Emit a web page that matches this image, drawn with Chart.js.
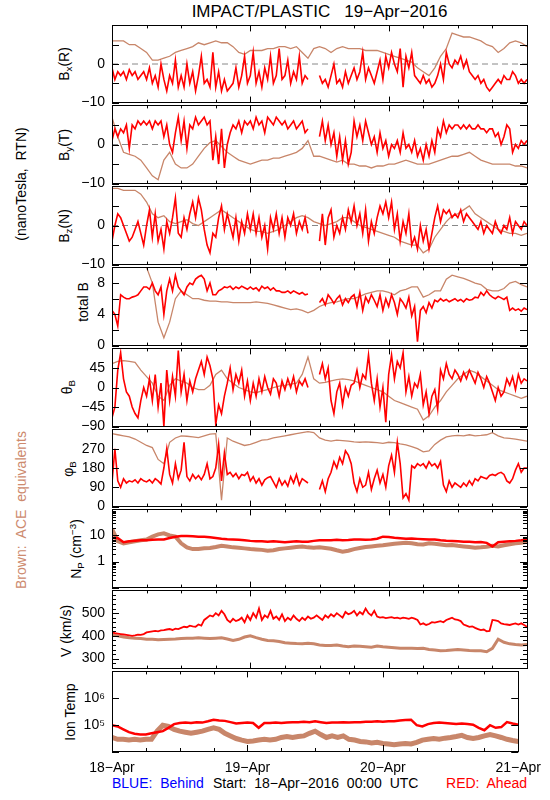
<!DOCTYPE html>
<html>
<head>
<meta charset="utf-8">
<title>IMPACT/PLASTIC 19-Apr-2016</title>
<script src="https://cdn.jsdelivr.net/npm/chart.js@4.4.1/dist/chart.umd.min.js"></script>
<style>
  body { margin: 0; background: #fff; }
  #wrap { position: relative; width: 550px; height: 800px; overflow: hidden;
          font-family: 'Liberation Sans', Arial, sans-serif; color: #000; }
  #wrap canvas { position: absolute; left: 0; }
  .txt { position: absolute; white-space: nowrap; font-size: 14px; line-height: 14px; }
  .rot { position: absolute; white-space: nowrap; font-size: 14px; line-height: 14px;
         transform: translate(-50%, -50%) rotate(-90deg); }
  sub { font-size: 70%; vertical-align: -0.3em; line-height: 0; }
  sup { font-size: 70%; vertical-align: 0.5em; line-height: 0; }
</style>
</head>
<body>
<div id="wrap">
  <div class="txt" style="left:112px;width:415px;top:3px;text-align:center;font-size:17px;line-height:17px;">IMPACT/PLASTIC&nbsp;&nbsp;&nbsp;19−Apr−2016</div>

  <div class="rot" style="left:21px;top:184px;">(nanoTesla,&nbsp; RTN)</div>
  <div class="rot" style="left:21px;top:510px;color:#cd8a6e;">Brown:&nbsp; ACE&nbsp; equivalents</div>

  <div class="rot" style="left:64px;top:64px;">B<sub>x</sub>(R)</div>
  <div class="rot" style="left:64px;top:145px;">B<sub>y</sub>(T)</div>
  <div class="rot" style="left:64px;top:226px;">B<sub>z</sub>(N)</div>
  <div class="rot" style="left:83px;top:302px;">total B</div>
  <div class="rot" style="left:67px;top:387px;">θ<sub>B</sub></div>
  <div class="rot" style="left:68px;top:469px;">φ<sub>B</sub></div>
  <div class="rot" style="left:76px;top:549px;">N<sub>P</sub> (cm<sup>−3</sup>)</div>
  <div class="rot" style="left:66px;top:631px;">V (km/s)</div>
  <div class="rot" style="left:70px;top:712px;">Ion Temp</div>

  <div class="txt" style="left:112px;top:776px;color:#0000ff;">BLUE:&nbsp; Behind</div>
  <div class="txt" style="left:213px;top:776px;">Start:&nbsp; 18−Apr−2016&nbsp; 00:00&nbsp; UTC</div>
  <div class="txt" style="right:23px;top:776px;color:#ff0000;">RED:&nbsp; Ahead</div>
</div>
<script>
// time axis: hours since 18-Apr-2016 00:00 UTC
const dayLabels = ['18−Apr', '19−Apr', '20−Apr', '21−Apr'];
const dayHours = [0, 24, 48, 72];

// STEREO-A (red) magnetic field, 30 min samples (null = data gap)
const redBx = [
  -1,-4,-2,-3,-2,-4,-1.5,-3,-2,-4,-3,-2,
  -4,-1,-5,-3,-6,0,-4,-7,-3,-5,1,-6,
  -3,-6,0,-5,-2,-7,-3,2,-5,-4,-6,3,
  -6,-2,-7,-4,-7,-6,-5,-1,-6,-3,2,-5,
  -3,3,-5,-2,-6,-1,-4,2,-5,-3,4,-4,
  -3,1,-5,-2,-4,2,-5,-3,-4,null,null,null,
  -3,-5,-4,-6,-3,0,-5,-4,-6,-2,-5,-3,
  -1,-4,-2,3,-4,-1,-3,-5,-2,1,-4,2,
  -1,3,0,-2,4,-6,2,-1,3,-3,-4,-5,
  -3,-5,-4,-6,-5,-3,0,-4,3,0,-1,1,
  0,2,-1,1,-2,-3,-4,-3,-5,-4,-6,-7,
  -6,-5,-4,-5,-3,-4,-4,-2,-3,-5,-4,-5,
  -4
];
const redBy = [
  1,4,2,4,3,5,-1,5,4,6,5,6,
  5,6,4,6,5,6,2,5,0,-2,3,7,
  1,6,-1,5,4,7,5,6,7,5,6,-4,
  2,-5,4,-6,0,3,5,4,6,3,6,5,
  6,4,7,5,6,3,7,6,5,7,6,5,
  6,4,5,6,4,5,6,3,4,null,null,null,
  2,6,1,5,0,3,-3,2,-4,1,-5,-2,
  6,2,5,1,6,3,0,2,-2,3,-1,1,
  -3,0,-1,1,-2,3,-1,0,-2,1,-3,-1,
  -4,0,-3,1,-2,4,2,6,3,5,4,5,
  5,4,5,4,5,4,4,5,4,4,3,4,
  4,2,3,0,2,5,4,-2,0,-1,1,0,
  1
];
const redBz = [
  -4,0,3,2,0,-2,-4,-3,-1,1,-2,-5,
  0,4,-3,3,-4,-1,-6,1,-2,2,7,-2,
  -3,2,-1,3,6,2,7,4,-1,-5,-7,-2,
  -3,2,5,-1,3,0,-3,2,-4,1,-2,3,
  -1,3,-2,2,-3,0,-6,2,-1,3,-2,2,
  -3,2,0,3,-2,1,-1,2,-2,null,null,null,
  -4,3,-5,2,4,-3,0,-2,2,-1,4,1,
  5,0,3,-2,4,-4,1,-2,2,5,3,6,
  2,6,-1,3,-4,1,-2,3,-5,-3,-6,0,
  -4,-1,-6,-2,2,5,1,4,3,4,2,3,
  2,4,1,3,2,1,0,-1,1,-2,0,-1,
  -2,1,-1,-2,0,-1,2,-2,1,0,-1,1,
  0
];
const redBt = [
  4.5,4,2.5,6.5,6.2,6,6,6.2,6.3,6.5,7,7.5,
  7.5,7.2,8,7,6.5,7.5,4,7,8.5,7,9,7.5,
  7,6.5,7.5,8,7.8,8.5,8.8,9,8.5,7,8,6.5,
  6.5,7,7.2,7.5,7.4,7.6,7.2,7.5,7.3,7.6,7.4,7.2,
  7.5,7.2,7.4,7,7.6,7.3,7.5,7.1,7.4,7,7,6.8,
  6.8,7,6.7,7,6.8,6.6,6.8,6.5,6.6,null,null,null,
  5.5,6,5.2,6.5,6,5.4,6,6.4,5.2,6,5.5,6.2,
  6.5,5,6.8,4.5,6.2,5.5,6.5,5.8,5,6.5,4.5,6,
  5,6.5,5.5,4,6,5.5,4.8,6.2,3.8,5,0.5,4.5,
  5,4.2,5.5,4.8,5.8,5.6,6,5.7,5.9,5.6,5.8,6,
  5.7,5.9,5.6,6,5.8,5.9,6.2,6.1,6.8,6.4,7,6.5,
  6.2,6,6.3,6.1,5.9,6.2,4.5,4.8,4.5,4.7,4.4,4.8,
  4.6
];
const redTheta = [
  -70,-45,40,80,20,-10,-20,-45,-60,-70,-30,0,
  -20,20,-30,30,-45,10,-90,40,-30,25,-20,85,
  -10,30,-30,15,-10,20,40,60,30,70,50,20,
  -85,-40,-60,-20,10,45,-5,30,10,40,-20,15,
  -30,10,-20,20,-10,25,0,-15,20,10,-20,15,
  -5,20,0,25,-10,15,5,20,0,null,null,null,
  30,55,20,45,-30,-60,-10,10,-40,0,-20,5,
  10,40,0,30,20,75,10,-30,20,-45,0,-80,
  30,75,20,60,45,80,-10,25,-20,10,0,30,
  -40,-10,-60,-20,-5,-50,40,20,55,30,20,40,
  30,15,35,20,40,25,10,35,20,0,25,10,
  -10,-30,0,-20,-10,20,5,25,-5,30,10,20,
  15
];
const redPhi = [
  110,270,120,90,130,110,120,115,125,110,130,120,
  115,125,110,130,120,105,180,270,150,110,200,130,
  170,300,140,120,150,130,145,125,150,200,130,140,
  180,290,120,250,150,160,140,155,130,150,145,160,
  120,140,110,130,100,125,135,140,115,90,130,100,
  120,95,140,110,150,100,130,120,110,null,null,null,
  80,120,70,130,160,210,180,230,200,260,240,200,
  110,70,130,90,100,160,80,130,170,110,150,90,
  190,240,160,300,200,40,60,30,190,180,200,190,
  200,180,210,190,200,180,210,100,70,120,90,110,
  100,90,110,95,120,100,130,120,140,135,130,145,
  150,145,155,160,150,120,110,130,170,200,160,180,
  180
];
// STEREO-A (red) plasma
const redV = [
  415,412,410,408,406,404,402,400,402,405,404,408,
  415,418,420,422,420,424,425,428,430,426,432,430,
  435,440,438,445,442,440,450,445,470,480,490,485,
  500,490,510,495,470,460,475,465,470,480,460,490,
  470,500,480,520,470,490,480,510,475,485,470,495,
  465,480,470,490,475,465,480,470,485,475,480,490,
  480,470,490,480,495,485,500,490,480,505,495,500,
  510,490,505,495,520,500,490,510,485,480,482,478,
  480,482,478,480,476,480,478,475,480,476,470,450,
  455,448,452,460,458,462,465,460,470,475,480,472,
  470,465,450,445,440,442,435,430,425,428,420,422,
  470,468,465,455,452,450,448,452,455,450,455,448,
  440
];
// hourly samples
const redNp = [8,8,5.5,6,6.3,6.5,6.5,6.8,7,7,8,9,9.5,9.5,9.3,9,9,8.5,8,7.5,7.2,7,6.8,6.5,
  6.2,6,6,5.8,6,5.8,5.5,5.8,6,5.7,5.8,6.2,6.5,6.6,6.6,6.8,6.5,6.7,7,7,6.8,7,7.5,9,
  8.8,8.2,7.8,7.5,7.6,7.4,7.2,7,7,6.5,6.3,6.2,6,5.8,5.8,5.5,5.6,5.2,3.8,5.5,5.8,6,6.2,6.5,7];
const redTemp = [1.0e5,9e4,7e4,5.5e4,4.8e4,4.5e4,4.5e4,5e4,5.5e4,6e4,8e4,1.1e5,1.2e5,1.25e5,1.2e5,1.3e5,
  1.25e5,1.4e5,1.6e5,1.5e5,1.45e5,1.3e5,1.15e5,1.2e5,1.25e5,1.2e5,8e4,1.2e5,1.2e5,1.25e5,1.2e5,
  1.25e5,1.3e5,1.3e5,1.35e5,1.3e5,1.4e5,1.3e5,1.2e5,1.25e5,1.25e5,1.3e5,1.25e5,1.3e5,1.3e5,1.35e5,
  1.35e5,1.4e5,1.35e5,1.4e5,1.4e5,1.5e5,1.55e5,1.6e5,1.0e5,9e4,1.1e5,1.2e5,1.25e5,1.2e5,1.15e5,
  1.1e5,1.15e5,1.1e5,1.05e5,8e4,6.5e4,1.0e5,8e4,8.5e4,1.3e5,1.15e5,1.05e5];

// ACE equivalents (brown), hourly samples
const aceBx = [6,6,6,5,5,4,3,1,1,1.5,2,3,3.5,4,4.5,5.5,5,5.5,6,5.5,5.5,4.5,3,2.5,
  3.5,3.5,3.5,4,4,4.5,4.5,4,4.5,3,1.5,4,4.5,4,3,4,4.5,4,4,4,3.5,3.5,3.5,3,
  2.5,2,1.5,1,0.5,-1,-2,-3,-1,2,4,8,7.5,7,7,6.5,6,5,4.5,3,4,5.5,6,5.5,4.5];
const aceBy = [7,2,-2,-2.5,-3,-4,-6,-8,-9,-4,-2,-5,-6,-6,-5,-3,-1,0.5,1,-0.5,-2,-3,-4,-4.5,
  -5,-4.5,-4,-4,-3.5,-3.5,-3,-2.5,-2,-1,1,-3,-3,-3.5,-4,-4.5,-4,-5,-5,-5.5,-5.5,-6,-5.5,-5.5,
  -5,-5,-4.5,-4,-4.5,-5,-5,-5,-4.5,-4,-3.5,-3,-3,-2.5,-2,-3,-4,-4.5,-5,-5,-5,-5,-5.5,-5.5,-6];
const aceBz = [9.5,9.5,9,9,9,8,6,3,2,2.5,1,0.5,1,1.5,0.5,0,1,2,3,4,3,2,1,0,
  -1,-1.5,-1.5,-2,-1.5,-1,0,1,2,2.5,2,1,0.5,0,0.5,1,2,2,1,0,-0.5,-1,-1.5,-2,
  -2.5,-3,-4,-4.5,-5,-5,-7,-6,-3,-1,1,2.5,3,4,5,3,2,1,0,-1,-1.5,-2,-2,-2.5,-2];
const aceBt = [11,11,10.5,10.5,10.5,10.5,10,8,3,1,3,6,7,6.5,6,6,5.8,5.7,5.7,5.6,5.6,5.5,5.5,5.5,
  5.5,5.6,5.5,5.4,5.2,5,4.8,4.6,4.7,4.5,4.2,4.5,5,5.3,5.5,5.6,5.8,6,6,6.3,6.6,6.8,7,7,
  6.8,6.5,7,7.2,7.5,7.5,6.2,6.5,7,7,8.5,9,8.8,8.6,8.3,8,7.8,7.2,7,7,7.3,8,8.2,7.8,7.5];
const aceTheta = [55,60,62,60,58,40,25,10,-20,-30,5,20,15,10,0,-5,-5,5,30,40,20,10,0,-5,
  -10,-12,-8,-5,0,3,5,8,10,30,70,20,10,12,15,18,20,18,15,10,5,0,-5,-10,
  -20,-30,-35,-40,-45,-50,-75,-65,-45,-30,-10,5,20,30,40,35,25,15,5,-5,-10,-15,-20,-25,-20];
const acePhi = [340,335,330,325,315,300,285,275,220,200,300,320,330,328,325,322,330,338,340,30,320,305,295,285,
  290,300,310,312,320,325,330,335,340,345,350,345,320,310,305,310,308,305,302,300,302,300,298,295,
  300,298,292,288,280,270,255,260,290,310,325,330,332,330,335,330,332,335,345,330,320,318,315,310,305];
const aceNp = [18,6,5,5.5,6,6.5,7,9,11,12,10,9,5,3.5,3,3,3.2,3.3,3.6,4,3.8,3.5,3.4,3.2,
  3,2.9,2.8,2.6,2.7,3,3.2,3.4,3.6,3.8,3.5,3.4,3.5,3.3,3.1,2.7,2.4,2.6,3,3.3,3.6,3.8,4,4.2,
  4.5,4.8,5,5.2,5,4.6,4.5,5,4.8,4.5,4.2,4.3,4,3.8,3.6,3.4,3.5,3.7,4,3.8,4.2,4.6,5,5.3,5.8];
const aceV = [405,400,395,392,390,388,385,385,383,384,385,386,388,390,390,392,390,388,390,392,386,380,385,395,
  400,392,385,380,378,375,370,368,366,365,368,365,360,358,358,360,355,352,355,354,352,350,355,352,
  350,348,346,345,346,344,345,340,338,335,336,338,340,338,336,335,334,330,345,385,372,365,362,360,362];
const aceTemp = [3.5e4,3e4,3e4,2.8e4,3e4,2.8e4,3e4,3e4,6e4,1e5,9e4,7e4,6e4,5.5e4,5e4,5.5e4,6e4,7e4,8e4,7e4,
  5e4,4e4,3.2e4,2.8e4,2.5e4,2.6e4,2.8e4,3e4,2.8e4,3e4,3.5e4,3.8e4,3.5e4,3.8e4,4e4,5e4,6e4,4.5e4,
  3.5e4,4e4,3.5e4,4e4,3e4,2.8e4,2.5e4,2.4e4,2.2e4,2.3e4,2.1e4,2e4,1.9e4,2e4,2.1e4,2e4,2.3e4,2.8e4,
  3e4,3.2e4,3e4,3.3e4,3.5e4,3.8e4,4.2e4,3.5e4,3.2e4,3.5e4,4e4,4.5e4,4e4,3.5e4,3e4,2.7e4,2.5e4];

// y axis tick values per panel
const bTicks = [-10, -5, 0, 5, 10];
const bLabels = [0, -10];
const btTicks = [0, 2, 4, 6, 8, 10];
const btLabels = [8, 4, 0];
const thetaTicks = [-90, -45, 0, 45, 90];
const thetaLabels = [45, 0, -45, -90];
const phiTicks = [0, 90, 180, 270, 360];
const phiLabels = [270, 180, 90, 0];
const npTicks = [0.1, 1, 10, 100];
const npLabels = [10, 1];
const vTicks = [300, 400, 500, 600];
const vLabels = [500, 400, 300];
const tempTicks = [1e4, 1e5, 1e6, 1e7];
const tempLabels = [1e6, 1e5];
const tempNames = { 100000: '10⁵', 1000000: '10⁶' };

const RED = '#ff0000';
const BROWN = '#c8866a';
const FONT = { family: "'Liberation Sans', Arial, sans-serif", size: 14 };

const PANEL_TOP = 23.5, PANEL_H = 80.8, PLOT_L = 112, PLOT_R = 527, PAD = 14, XAXIS_H = 24;

const pts = (arr, step) => arr.map((v, i) => ({ x: i * step, y: v }));
const minus = v => (v < 0 ? '−' + Math.abs(v) : String(v));

function logMinors(lo, hi) {
  const out = [];
  for (let d = lo; d < hi; d *= 10) for (let k = 2; k <= 9; k++) out.push(d * k);
  return out;
}

// box, inward ticks on all four sides
const frame = {
  id: 'frame',
  afterDatasetsDraw(chart, args, o) {
    const { ctx, chartArea: a, scales } = chart;
    const px = v => Math.round(v) + 0.5;
    ctx.save();
    ctx.strokeStyle = '#000';
    ctx.lineWidth = 1;
    ctx.beginPath();
    for (let h = 6; h < 72; h += 6) {
      const x = px(scales.x.getPixelForValue(h));
      const len = h % 24 === 0 ? 6 : 3;
      ctx.moveTo(x, a.top); ctx.lineTo(x, a.top + len);
      ctx.moveTo(x, a.bottom); ctx.lineTo(x, a.bottom - len);
    }
    const tick = (v, len) => {
      const y = px(scales.y.getPixelForValue(v));
      ctx.moveTo(a.left, y); ctx.lineTo(a.left + len, y);
      ctx.moveTo(a.right, y); ctx.lineTo(a.right - len, y);
    };
    o.major.forEach(v => tick(v, 7));
    (o.minor || []).forEach(v => tick(v, 4));
    ctx.stroke();
    ctx.strokeRect(px(a.left), px(a.top), Math.round(a.right - a.left), Math.round(a.bottom - a.top));
    ctx.restore();
  }
};

const panels = [
  { red: redBx, redStep: 0.5, ace: aceBx, min: -10, max: 10, major: bTicks, labels: bLabels, zero: true },
  { red: redBy, redStep: 0.5, ace: aceBy, min: -10, max: 10, major: bTicks, labels: bLabels, zero: true },
  { red: redBz, redStep: 0.5, ace: aceBz, min: -10, max: 10, major: bTicks, labels: bLabels, zero: true },
  { red: redBt, redStep: 0.5, ace: aceBt, min: 0, max: 10, major: btTicks, labels: btLabels },
  { red: redTheta, redStep: 0.5, ace: aceTheta, min: -90, max: 90, major: thetaTicks, labels: thetaLabels },
  { red: redPhi, redStep: 0.5, ace: acePhi, min: 0, max: 360, major: phiTicks, labels: phiLabels },
  { red: redNp, redStep: 1, ace: aceNp, min: 0.1, max: 100, log: true, major: npTicks,
    minor: logMinors(0.1, 100), labels: npLabels, redW: 2.5, aceW: 4 },
  { red: redV, redStep: 0.5, ace: aceV, min: 256, max: 600, major: vTicks,
    minor: [260, 280, 320, 340, 360, 380, 420, 440, 460, 480, 520, 540, 560, 580], labels: vLabels, redW: 1.8, aceW: 3 },
  { red: redTemp, redStep: 1, ace: aceTemp, min: 1.1e4, max: 1e7, log: true, major: tempTicks,
    labels: tempLabels, names: tempNames, redW: 2.5, aceW: 5 }
];

const wrap = document.getElementById('wrap');

panels.forEach((p, i) => {
  const top = Math.round(PANEL_TOP + i * PANEL_H);
  const bot = Math.round(PANEL_TOP + (i + 1) * PANEL_H);
  const last = i === panels.length - 1;
  const extra = last ? XAXIS_H : 0;
  const canvas = document.createElement('canvas');
  canvas.width = 550;
  canvas.height = bot - top + 2 * PAD + extra;
  canvas.style.top = (top - PAD) + 'px';
  wrap.appendChild(canvas);

  const datasets = [
    { data: pts(p.red, p.redStep), borderColor: RED, borderWidth: p.redW || 1.6 },
    { data: pts(p.ace, 1), borderColor: BROWN, borderWidth: p.aceW || 1.3 }
  ];
  if (p.zero) {
    datasets.push({ data: [{ x: 0, y: 0 }, { x: 72, y: 0 }], borderColor: '#888', borderWidth: 1, borderDash: [6, 4] });
  }

  new Chart(canvas, {
    type: 'line',
    data: { datasets },
    options: {
      responsive: false,
      animation: false,
      devicePixelRatio: 1,
      events: [],
      elements: { point: { radius: 0 }, line: { tension: 0 } },
      layout: { autoPadding: false, padding: { left: 0, right: 550 - PLOT_R, top: PAD, bottom: PAD } },
      plugins: {
        legend: { display: false },
        tooltip: { enabled: false },
        frame: { major: p.major, minor: p.minor }
      },
      scales: {
        x: {
          type: 'linear', min: 0, max: 72, display: last,
          afterBuildTicks: s => { s.ticks = dayHours.map(v => ({ value: v })); },
          afterFit: s => { s.height = extra; },
          ticks: { callback: (v, k) => dayLabels[k], font: FONT, color: '#000', padding: 9, maxRotation: 0, autoSkip: false },
          grid: { display: false, drawTicks: false },
          border: { display: false }
        },
        y: {
          type: p.log ? 'logarithmic' : 'linear', min: p.min, max: p.max, position: 'left',
          afterBuildTicks: s => { s.ticks = p.labels.map(v => ({ value: v })); },
          afterFit: s => { s.width = PLOT_L; },
          ticks: {
            callback: v => (p.names ? p.names[v] : minus(v)),
            font: FONT, color: '#000', padding: 7, autoSkip: false
          },
          grid: { display: false, drawTicks: false },
          border: { display: false }
        }
      }
    },
    plugins: [frame]
  });
});
</script>
</body>
</html>
